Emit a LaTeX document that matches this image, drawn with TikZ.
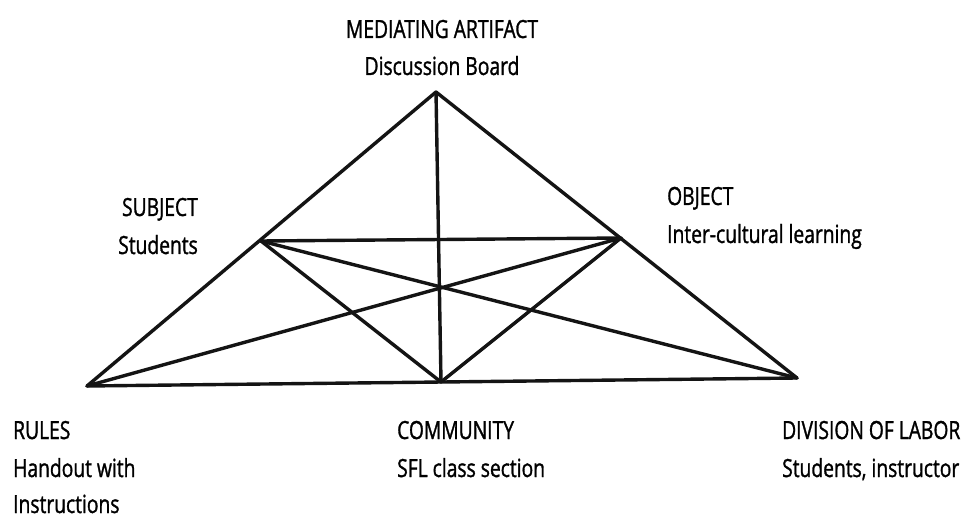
\documentclass[tikz,border=0pt]{standalone}
\usepackage{fontspec}
\setmainfont{Open Sans}[FakeStretch=0.77,FakeBold=1.2]
\begin{document}
\begin{tikzpicture}[x=1pt,y=-1pt,
  edge/.style={line width=3.4pt,line cap=round,line join=round,black!92},
  lbl/.style={inner sep=0pt,font=\fontsize{25}{30}\selectfont,text=black}]
\useasboundingbox (0,0) rectangle (965,518);
\fill[white] (0,0) rectangle (965,518);
\coordinate (A) at (436,92);
\coordinate (S) at (261,241);
\coordinate (O) at (621,238);
\coordinate (R) at (87,386);
\coordinate (C) at (441,382);
\coordinate (D) at (797,378);
\draw[edge] (R) -- (A) -- (D) -- cycle;
\draw[edge] (A) -- (C);
\draw[edge] (S) -- (O);
\draw[edge] (S) -- (D);
\draw[edge] (O) -- (R);
\draw[edge] (S) -- (C) -- (O);
% labels
\node[lbl,anchor=base] (ma1) at (442,38) {MEDIATING ARTIFACT};
\node[lbl,anchor=base] (ma2) at (442,75) {Discussion Board};
\node[lbl,anchor=base east] (s1) at (198,216) {SUBJECT};
\node[lbl,anchor=base east] (s2) at (198,254) {Students};
\node[lbl,anchor=base west] (o1) at (667,205) {OBJECT};
\node[lbl,anchor=base west] (o2) at (667,243) {Inter-cultural learning};
\node[lbl,anchor=base west] (r1) at (13,439) {RULES};
\node[lbl,anchor=base west] (r2) at (13,477) {Handout with};
\node[lbl,anchor=base west] (r3) at (13,513) {Instructions};
\node[lbl,anchor=base west] (c1) at (397,439) {COMMUNITY};
\node[lbl,anchor=base west] (c2) at (397,477) {SFL class section};
\node[lbl,anchor=base west] (d1) at (782,439) {DIVISION OF LABOR};
\node[lbl,anchor=base west] (d2) at (782,477) {Students, instructor};
\end{tikzpicture}
\end{document}
